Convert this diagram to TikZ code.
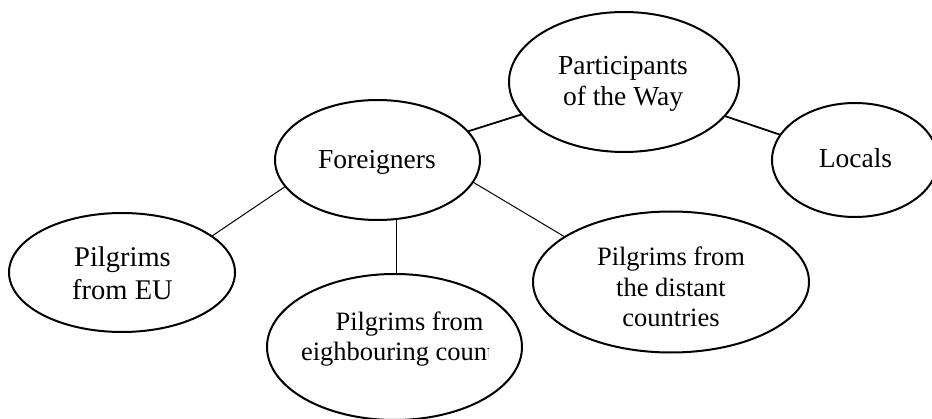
\documentclass[tikz,border=0pt]{standalone}
\usepackage{fontspec}
\setmainfont{Liberation Serif}
\usetikzlibrary{shapes.geometric}
\newcommand\mlines[1]{\begin{tabular}[t]{@{}c@{}}#1\end{tabular}}
\begin{document}
\begin{tikzpicture}[x=1pt,y=1pt,
  oval/.style={draw, ellipse, line width=2pt, inner sep=0pt, outer sep=0pt},
  lbl/.style={inner sep=0pt, outer sep=0pt, anchor=base},
  big/.style={font={\fontsize{27.5}{31}\selectfont}},
  pil/.style={font={\fontsize{26.5}{30.5}\selectfont}},
  thickconn/.style={line width=1.8pt},
  thinconn/.style={line width=1pt}]
\useasboundingbox (0,0) rectangle (932,418);
% ellipses
\node[oval, minimum width=230pt, minimum height=140pt] (part) at (624,336) {};
\node[oval, minimum width=166pt, minimum height=114pt] (loc) at (855,258) {};
\node[oval, minimum width=205pt, minimum height=120pt] (fore) at (377.5,258) {};
\node[oval, minimum width=226pt, minimum height=119pt] (eu) at (122,145.5) {};
\node[oval, minimum width=255pt, minimum height=146pt] (neigh) at (394.5,71) {};
\node[oval, minimum width=276pt, minimum height=141pt] (dist) at (671,136) {};
% texts
\node[lbl, big] (partt) at (623,343) {\mlines{Participants\\of the Way}};
\node[lbl, big] (foret) at (377,249) {Foreigners};
\node[lbl, big] (loct) at (855.5,250) {Locals};
\node[lbl, font={\fontsize{28.5}{33}\selectfont}] (eut) at (122.5,151.3) {\mlines{Pilgrims\\from EU}};
\node[lbl, pil] (distt) at (671,152.3) {\mlines{Pilgrims from\\the distant\\countries}};
\node[lbl, pil] (neight) at (409.5,88) {Pilgrims from};
\begin{scope}
\clip (0,0) rectangle (488,418);
\node[lbl, pil, anchor=base west] (neight2) at (301,58) {eighbouring count};
\end{scope}
% connectors
\draw[thickconn] (fore) -- (part);
\draw[thickconn] (part) -- (loc);
\draw[thinconn] (fore.196.5) -- (eu.22.4);
\draw[thinconn] (fore.-72.6) -- (fore.-72.6 |- neigh.north);
\draw[thinconn] (fore.-13.3) -- (dist.157.9);
\end{tikzpicture}
\end{document}
